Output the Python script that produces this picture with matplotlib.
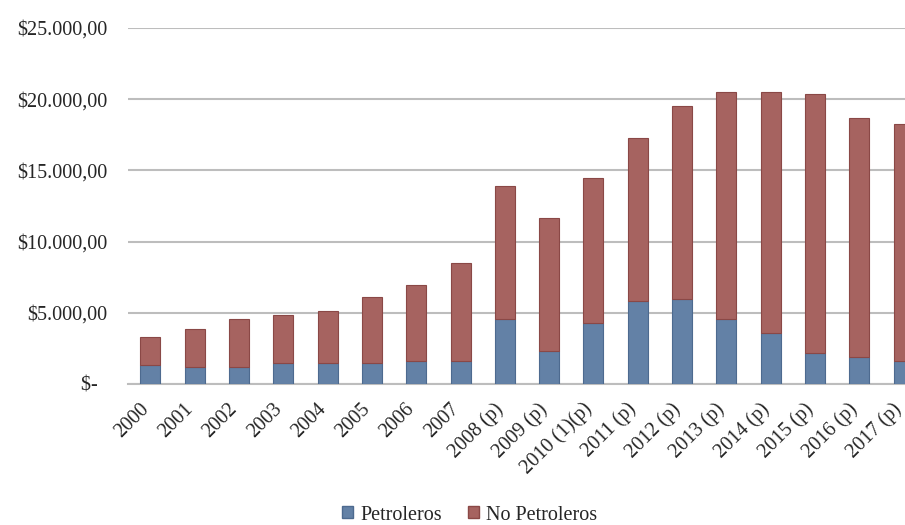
import matplotlib
matplotlib.use("Agg")
import matplotlib.pyplot as plt
import matplotlib.transforms as mtransforms
from matplotlib.ticker import FuncFormatter
from matplotlib.patches import Patch

categories = ["2000", "2001", "2002", "2003", "2004", "2005", "2006", "2007",
              "2008 (p)", "2009 (p)", "2010 (1)(p)", "2011 (p)", "2012 (p)",
              "2013 (p)", "2014 (p)", "2015 (p)", "2016 (p)", "2017 (p)"]
totals = [3280, 3840, 4560, 4850, 5130, 6130, 6950, 8500, 13880, 11630,
          14440, 17300, 19520, 20510, 20510, 20370, 18680, 18260]
petroleros = [1310, 1170, 1170, 1450, 1450, 1450, 1590, 1590, 4560, 2320,
              4280, 5830, 5970, 4560, 3580, 2180, 1870, 1590]
no_petroleros = [t - p for t, p in zip(totals, petroleros)]
yticks = [0, 5000, 10000, 15000, 20000, 25000]

plt.rcParams['font.family'] = ['Liberation Serif', 'DejaVu Serif']

blue = "#6381A6"
blue_edge = "#4D6A8F"
red = "#A66360"
red_edge = "#8A4846"
txt = "#262626"

fig = plt.figure(figsize=(9.05, 5.25), dpi=100)
ax = fig.add_axes([128.3 / 905, 141 / 525, 797.4 / 905, 356 / 525])

x = list(range(len(categories)))
ax.bar(x, petroleros, width=0.45, color=blue, edgecolor=blue_edge, linewidth=0.8, zorder=3)
ax.bar(x, no_petroleros, width=0.45, bottom=petroleros, color=red, edgecolor=red_edge,
       linewidth=0.8, zorder=3)

ax.set_xlim(-0.5, len(categories) - 0.5)
ax.set_ylim(0, 25000)
ax.set_yticks(yticks)


def fmt(v, pos):
    if v == 0:
        return "$-  "
    s = f"{int(v):,}".replace(",", ".")
    return f"${s},00"


ax.yaxis.set_major_formatter(FuncFormatter(fmt))
ax.grid(axis='y', color="#BDBDBD", linewidth=1.5, zorder=0)
ax.set_axisbelow(True)
for s in ["top", "right", "left"]:
    ax.spines[s].set_visible(False)
ax.spines["bottom"].set_color("#BDBDBD")
ax.spines["bottom"].set_linewidth(1.5)
ax.tick_params(axis='both', length=0, labelsize=14.5, colors=txt)
ax.tick_params(axis='y', pad=15)
ax.set_xticks(x)
ax.set_xticklabels(categories, rotation=45, ha='right', va='center', rotation_mode='anchor')
ax.tick_params(axis='x', pad=16)
offset = mtransforms.ScaledTranslation(-4.5 / 100, 0, fig.dpi_scale_trans)
for lab in ax.get_xticklabels():
    lab.set_transform(lab.get_transform() + offset)

handles = [Patch(facecolor=blue, edgecolor=blue_edge, label="Petroleros"),
           Patch(facecolor=red, edgecolor=red_edge, label="No Petroleros")]
fig.legend(handles=handles, loc='center', bbox_to_anchor=(470 / 905, 1 - 515 / 525),
           ncol=2, frameon=False, fontsize=14.5, handlelength=0.55, handleheight=0.55,
           handletextpad=0.35, columnspacing=1.3, labelcolor=txt)

fig.savefig("out.png", dpi=100)
